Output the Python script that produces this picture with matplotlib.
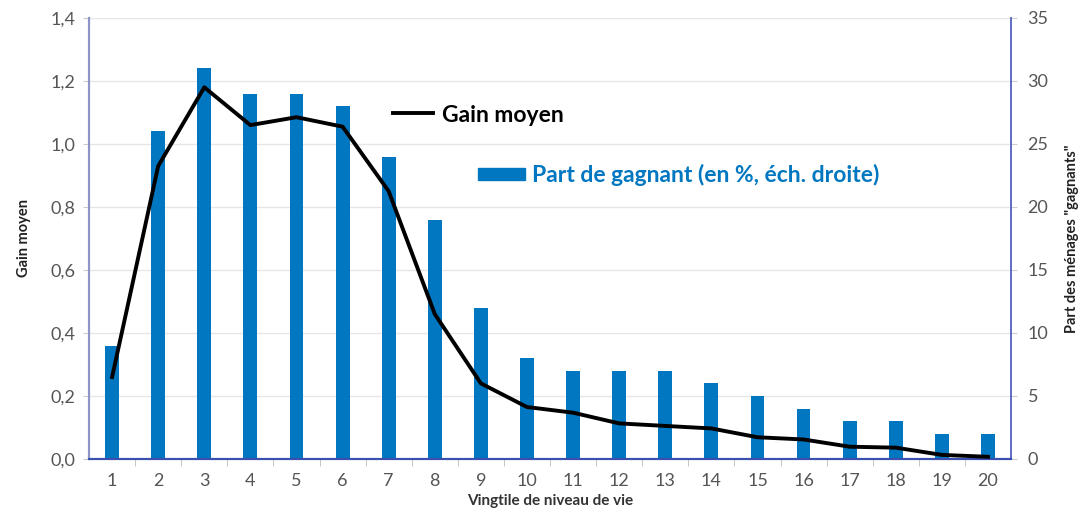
import numpy as np
import matplotlib
matplotlib.use("Agg")
import matplotlib.pyplot as plt
from matplotlib.lines import Line2D
from matplotlib.patches import Patch

# Data
vingtiles = list(range(1, 21))
gain_moyen = [0.26, 0.93, 1.18, 1.06, 1.085, 1.055, 0.85, 0.46, 0.24, 0.165,
              0.147, 0.113, 0.105, 0.097, 0.069, 0.062, 0.039, 0.036, 0.013, 0.007]
part_gagnants = [9, 26, 31, 29, 29, 28, 24, 19, 12, 8,
                 7, 7, 7, 6, 5, 4, 3, 3, 2, 2]
left_ticks = [0.0, 0.2, 0.4, 0.6, 0.8, 1.0, 1.2, 1.4]
right_ticks = [0, 5, 10, 15, 20, 25, 30, 35]

plt.rcParams['font.family'] = ['Lato', 'DejaVu Sans']

bar_color = '#0077c0'
tick_color = '#555555'

fig = plt.figure(figsize=(10.82, 5.17), dpi=100)
ax = fig.add_axes([0.0823, 0.1122, 0.8521, 0.853])
ax2 = ax.twinx()

# bars on the right scale, drawn behind the line
ax2.set_facecolor('#f4f4f4')
ax.set_zorder(ax2.get_zorder() + 1)
ax.patch.set_visible(False)

bars = ax2.bar(vingtiles, part_gagnants, width=0.3, color=bar_color, zorder=2)
ax2.set_ylim(0, 35)
ax2.set_yticks(right_ticks)
ax2.grid(axis='y', color='#e6e6e6', linewidth=1, zorder=0)
ax2.set_axisbelow(True)

line, = ax.plot(vingtiles, gain_moyen, color='black', linewidth=2.8, zorder=3)
ax.set_ylim(0, 1.4)
ax.set_xlim(0.5, 20.5)
ax.set_yticks(left_ticks)
ax.set_yticklabels([f"{v:.1f}".replace('.', ',') for v in left_ticks])
ax.set_xticks(vingtiles)
ax.set_xticks(np.arange(1.5, 20.5, 1), minor=True)

for a in (ax, ax2):
    a.spines['top'].set_visible(False)
    a.spines['left'].set_color('#8c94c8')
    a.spines['right'].set_color('#5d6cc0')
    a.spines['bottom'].set_color('#3a4fb0')
    a.spines['left'].set_linewidth(1.5)
    a.spines['right'].set_linewidth(1.2)
    a.spines['bottom'].set_linewidth(1.5)

ax.tick_params(axis='x', which='major', length=0, pad=10, labelsize=13, labelcolor=tick_color)
ax.tick_params(axis='x', which='minor', length=5, color='#bbbbbb', direction='out')
ax.tick_params(axis='y', length=4, color='#cccccc', labelsize=13, labelcolor=tick_color, pad=6)
ax2.tick_params(axis='y', length=4, color='#cccccc', labelsize=13, labelcolor=tick_color, pad=8)

ax.set_xlabel('Vingtile de niveau de vie', fontsize=11, fontweight='bold', color='#333333', labelpad=4)
ax.set_ylabel('Gain moyen', fontsize=10.5, fontweight='bold', color='#222222', labelpad=14)
ax2.set_ylabel('Part des ménages "gagnants"', fontsize=10.5, fontweight='bold', color='#222222', labelpad=12)

leg1 = ax.legend([Line2D([0], [0], color='black', linewidth=2.8)], ['Gain moyen'],
                 loc='center left', bbox_to_anchor=(0.307, 0.78), frameon=False,
                 handlelength=1.75, handletextpad=0.4,
                 prop={'size': 16.5, 'weight': 'bold'})
ax.add_artist(leg1)
leg2 = ax.legend([Patch(color=bar_color)], ['Part de gagnant (en %, éch. droite)'],
                 loc='center left', bbox_to_anchor=(0.4, 0.644), frameon=False,
                 handlelength=2.05, handleheight=0.45, handletextpad=0.3,
                 labelcolor=bar_color, prop={'size': 16.5, 'weight': 'bold'})

fig.savefig('out.png', dpi=100)
